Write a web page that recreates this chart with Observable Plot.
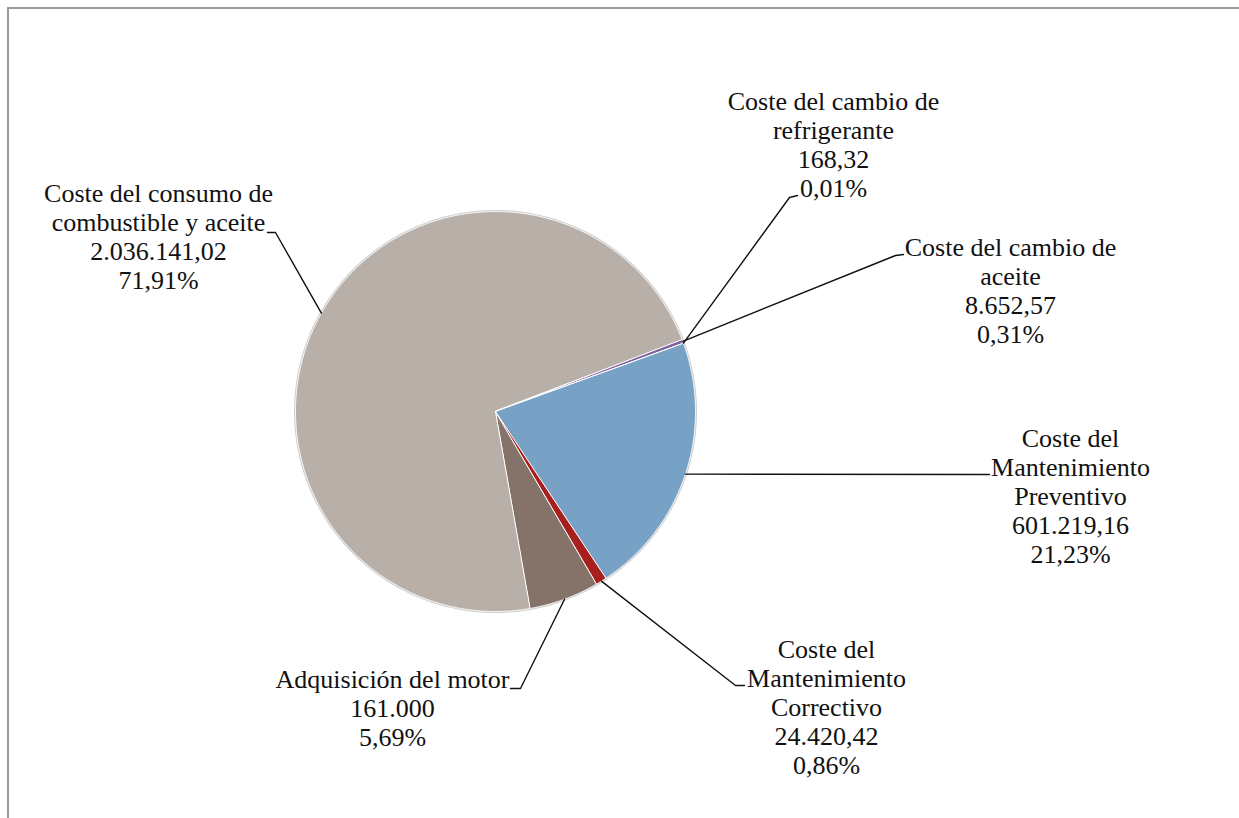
<!DOCTYPE html>
<html>
<head>
<meta charset="utf-8">
<script src="https://cdn.jsdelivr.net/npm/d3@7"></script>
<script src="https://cdn.jsdelivr.net/npm/@observablehq/plot@0.6"></script>
<style>
  html, body { margin: 0; padding: 0; background: #fff; overflow: hidden; }
  #wrap { position: relative; width: 1239px; height: 818px; overflow: hidden; }
  #frame { position: absolute; left: 7px; top: 7px; width: 1232px; height: 811px;
           border-top: 2px solid #9a9a9a; border-left: 2px solid #9a9a9a; box-sizing: border-box; }
  #chart { position: absolute; left: 0; top: 0; }
</style>
</head>
<body>
<div id="wrap"><div id="frame"></div><div id="chart"></div></div>
<script>
// ---- Data ----
const categories = [
  "Adquisición del motor",
  "Coste del consumo de combustible y aceite",
  "Coste del cambio de aceite",
  "Coste del cambio de refrigerante",
  "Coste del Mantenimiento Preventivo",
  "Coste del Mantenimiento Correctivo"
];
const values = [161000, 2036141.02, 8652.57, 168.32, 601219.16, 24420.42];
const valueLabels = ["161.000", "2.036.141,02", "8.652,57", "168,32", "601.219,16", "24.420,42"];
const percentLabels = ["5,69%", "71,91%", "0,31%", "0,01%", "21,23%", "0,86%"];
const nameLines = [
  ["Adquisición del motor"],
  ["Coste del consumo de", "combustible y aceite"],
  ["Coste del cambio de", "aceite"],
  ["Coste del cambio de", "refrigerante"],
  ["Coste del", "Mantenimiento", "Preventivo"],
  ["Coste del", "Mantenimiento", "Correctivo"]
];

// ---- Styles / layout ----
const colors = ["#857268", "#b8b0a8", "#8064a2", "#4bacc6", "#77a1c5", "#a8201e"];
const pieCenter = {x: 495, y: 411};
const pieRadius = 200;
const startAngleDeg = 149.57;
// label block centre and leader elbow/end per category (pixel layout)
const labelLayout = [
  {x: 392, y: 707, elbow: [520, 688], end: [510, 688]},
  {x: 158, y: 236, elbow: [275, 232], end: [267, 232]},
  {x: 1010, y: 290, elbow: [895, 255], end: [903, 254]},
  {x: 833, y: 144, elbow: [789, 197], end: [797, 195]},
  {x: 1070, y: 495, elbow: [989, 474], end: [989, 474]},
  {x: 826, y: 706, elbow: [735, 685], end: [744, 685]}
];

// ---- Build geometry through d3.pie ----
const a0 = startAngleDeg * Math.PI / 180;
const arcs = d3.pie().sort(null).startAngle(a0).endAngle(a0 + 2 * Math.PI)(values);
const px = a => pieCenter.x + pieRadius * Math.sin(a);
const py = a => pieCenter.y - pieRadius * Math.cos(a);

const slicePts = [];
arcs.forEach((arc, i) => {
  const cat = categories[i];
  slicePts.push({cat, x: pieCenter.x, y: pieCenter.y});
  const n = Math.max(2, Math.ceil((arc.endAngle - arc.startAngle) / (Math.PI / 720)));
  for (let k = 0; k <= n; k++) {
    const a = arc.startAngle + (arc.endAngle - arc.startAngle) * k / n;
    slicePts.push({cat, x: px(a), y: py(a)});
  }
});

const leaderPts = [];
arcs.forEach((arc, i) => {
  const cat = categories[i];
  const mid = (arc.startAngle + arc.endAngle) / 2;
  const L = labelLayout[i];
  leaderPts.push({cat, x: px(mid), y: py(mid)});
  leaderPts.push({cat, x: L.elbow[0], y: L.elbow[1]});
  leaderPts.push({cat, x: L.end[0], y: L.end[1]});
});

const labels = categories.map((cat, i) => ({
  cat,
  x: labelLayout[i].x,
  y: labelLayout[i].y,
  text: [...nameLines[i], valueLabels[i], percentLabels[i]].join("\n")
}));

const outline = d3.range(0, 361, 1).map(d => ({x: px(d * Math.PI / 180), y: py(d * Math.PI / 180)}));

const chart = Plot.plot({
  width: 1239,
  height: 818,
  margin: 0,
  x: {domain: [0, 1239], range: [0, 1239], axis: null},
  y: {domain: [0, 818], range: [0, 818], axis: null},
  color: {domain: categories, range: colors},
  style: {background: "transparent"},
  marks: [
    Plot.line(outline, {x: "x", y: "y", stroke: "#cfcfcf", strokeWidth: 3, curve: "linear-closed"}),
    Plot.line(slicePts, {x: "x", y: "y", z: "cat", fill: "cat", stroke: "white", strokeWidth: 1, curve: "linear-closed"}),
    Plot.line(leaderPts, {x: "x", y: "y", z: "cat", stroke: "#111", strokeWidth: 1.4}),
    Plot.text(labels, {
      x: "x", y: "y", text: "text",
      textAnchor: "middle", lineAnchor: "middle",
      lineHeight: 1.115, fontSize: 26,
      fontFamily: "'Liberation Serif', 'Times New Roman', serif",
      fill: "#111"
    })
  ]
});
document.getElementById("chart").appendChild(chart);
</script>
</body>
</html>
